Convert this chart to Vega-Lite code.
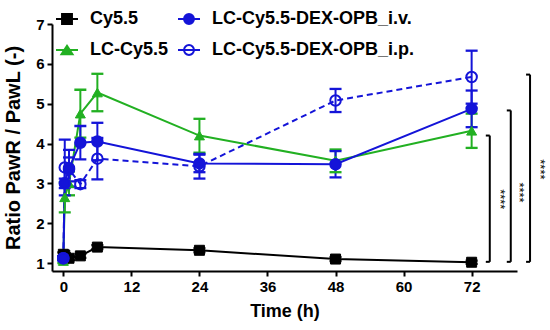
{
  "$schema": "https://vega.github.io/schema/vega-lite/v6.json",
  "autosize": {"type": "none"},
  "width": 465,
  "height": 247,
  "padding": {"left": 52, "top": 24, "right": 33, "bottom": 59},
  "background": "white",
  "config": {
    "view": {"stroke": null},
    "font": "Liberation Sans",
    "axis": {"domainColor": "black", "domainWidth": 2, "tickColor": "black", "tickWidth": 2, "tickSize": 5, "grid": false, "labelFont": "Liberation Sans", "labelFontWeight": "bold", "labelFontSize": 15, "labelColor": "black", "titleFont": "Liberation Sans", "titleFontWeight": "bold", "titleColor": "black"}
  },
  "datasets": {
    "series": [
      {"s": "Cy5.5", "t": 0, "y": 1.22, "lo": 1.17, "hi": 1.27},
      {"s": "Cy5.5", "t": 0.25, "y": 1.2, "lo": 1.15, "hi": 1.25},
      {"s": "Cy5.5", "t": 1, "y": 1.12, "lo": 1.07, "hi": 1.17},
      {"s": "Cy5.5", "t": 3, "y": 1.18, "lo": 1.13, "hi": 1.23},
      {"s": "Cy5.5", "t": 6, "y": 1.4, "lo": 1.35, "hi": 1.45},
      {"s": "Cy5.5", "t": 24, "y": 1.32, "lo": 1.27, "hi": 1.37},
      {"s": "Cy5.5", "t": 48, "y": 1.1, "lo": 1.05, "hi": 1.15},
      {"s": "Cy5.5", "t": 72, "y": 1.02, "lo": 0.98, "hi": 1.06},
      {"s": "LC-Cy5.5", "t": 0, "y": 1.05, "lo": 1.0, "hi": 1.1},
      {"s": "LC-Cy5.5", "t": 0.25, "y": 2.65, "lo": 2.27, "hi": 3.03},
      {"s": "LC-Cy5.5", "t": 1, "y": 3.0, "lo": 2.7, "hi": 3.3},
      {"s": "LC-Cy5.5", "t": 3, "y": 4.75, "lo": 4.15, "hi": 5.35},
      {"s": "LC-Cy5.5", "t": 6, "y": 5.28, "lo": 4.81, "hi": 5.75},
      {"s": "LC-Cy5.5", "t": 24, "y": 4.2, "lo": 3.77, "hi": 4.62},
      {"s": "LC-Cy5.5", "t": 48, "y": 3.57, "lo": 3.28, "hi": 3.85},
      {"s": "LC-Cy5.5", "t": 72, "y": 4.32, "lo": 3.89, "hi": 4.75},
      {"s": "LC-Cy5.5-DEX-OPB_i.v.", "t": 0, "y": 1.12, "lo": 1.07, "hi": 1.17},
      {"s": "LC-Cy5.5-DEX-OPB_i.v.", "t": 0.25, "y": 3.0, "lo": 2.88, "hi": 3.12},
      {"s": "LC-Cy5.5-DEX-OPB_i.v.", "t": 1, "y": 3.38, "lo": 2.92, "hi": 3.84},
      {"s": "LC-Cy5.5-DEX-OPB_i.v.", "t": 3, "y": 4.02, "lo": 3.6, "hi": 4.44},
      {"s": "LC-Cy5.5-DEX-OPB_i.v.", "t": 6, "y": 4.05, "lo": 3.58, "hi": 4.52},
      {"s": "LC-Cy5.5-DEX-OPB_i.v.", "t": 24, "y": 3.5, "lo": 3.28, "hi": 3.72},
      {"s": "LC-Cy5.5-DEX-OPB_i.v.", "t": 48, "y": 3.48, "lo": 3.15, "hi": 3.81},
      {"s": "LC-Cy5.5-DEX-OPB_i.v.", "t": 72, "y": 4.87, "lo": 4.41, "hi": 5.33},
      {"s": "LC-Cy5.5-DEX-OPB_i.p.", "t": 0, "y": 1.12, "lo": 1.07, "hi": 1.17},
      {"s": "LC-Cy5.5-DEX-OPB_i.p.", "t": 0.25, "y": 3.4, "lo": 2.7, "hi": 4.1},
      {"s": "LC-Cy5.5-DEX-OPB_i.p.", "t": 1, "y": 3.35, "lo": 3.05, "hi": 3.65},
      {"s": "LC-Cy5.5-DEX-OPB_i.p.", "t": 3, "y": 2.98, "lo": 2.88, "hi": 3.08},
      {"s": "LC-Cy5.5-DEX-OPB_i.p.", "t": 6, "y": 3.62, "lo": 3.1, "hi": 4.14},
      {"s": "LC-Cy5.5-DEX-OPB_i.p.", "t": 24, "y": 3.43, "lo": 3.12, "hi": 3.74},
      {"s": "LC-Cy5.5-DEX-OPB_i.p.", "t": 48, "y": 5.08, "lo": 4.79, "hi": 5.37},
      {"s": "LC-Cy5.5-DEX-OPB_i.p.", "t": 72, "y": 5.67, "lo": 5.0, "hi": 6.33}
    ],
    "brackets": [
      {"x": 75.2, "xin": 74.5, "top": 4.2, "bottom": 1.03, "xs": 77.0, "ys": 2.6, "label": "****"},
      {"x": 78.9, "xin": 78.2, "top": 4.83, "bottom": 1.03, "xs": 80.3, "ys": 2.77, "label": "****"},
      {"x": 82.3, "xin": 81.6, "top": 5.73, "bottom": 1.03, "xs": 84.0, "ys": 3.35, "label": "****"}
    ]
  },
  "layer": [
    {
      "data": {"name": "series"},
      "transform": [{"filter": "datum.s != 'LC-Cy5.5-DEX-OPB_i.p.'"}],
      "mark": {"type": "line", "strokeWidth": 2},
      "encoding": {
        "x": {"field": "t", "type": "quantitative", "scale": {"domain": [-2, 80], "nice": false, "zero": false}, "axis": {"values": [0, 12, 24, 36, 48, 60, 72], "title": "Time (h)", "titleFontSize": 18, "labelPadding": 3, "titlePadding": 8}},
        "y": {"field": "y", "type": "quantitative", "scale": {"domain": [0.8, 7], "nice": false, "zero": false}, "axis": {"values": [1, 2, 3, 4, 5, 6, 7], "title": "Ratio PawR / PawL (-)", "titleFontSize": 20, "labelPadding": 3, "titlePadding": 12}},
        "stroke": {"field": "s", "type": "nominal", "sort": null, "scale": {"domain": ["Cy5.5", "LC-Cy5.5-DEX-OPB_i.v.", "LC-Cy5.5", "LC-Cy5.5-DEX-OPB_i.p."], "range": ["#000000", "#1414d8", "#22b022", "#1414d8"]},
          "legend": {"title": null, "orient": "none", "legendX": 3, "legendY": -17, "direction": "horizontal", "columns": 2, "columnPadding": 5, "rowPadding": 10, "padding": 0, "labelFontSize": 18, "labelFontWeight": "bold", "labelColor": "black", "labelFont": "Liberation Sans", "labelOffset": 11, "labelLimit": 0, "symbolSize": 484, "symbolStrokeWidth": 2, "symbolOpacity": 1,
            "encoding": {"symbols": {"strokeWidth": {"value": 2}, "opacity": {"value": 1}}}
          }}
      }
    },
    {
      "data": {"name": "series"},
      "transform": [{"filter": "datum.s == 'LC-Cy5.5-DEX-OPB_i.p.'"}],
      "mark": {"type": "line", "strokeWidth": 2, "strokeDash": [6, 4]},
      "encoding": {
        "x": {"field": "t", "type": "quantitative"},
        "y": {"field": "y", "type": "quantitative"},
        "stroke": {"field": "s", "type": "nominal", "sort": null, "scale": {"domain": ["Cy5.5", "LC-Cy5.5-DEX-OPB_i.v.", "LC-Cy5.5", "LC-Cy5.5-DEX-OPB_i.p."]}}
      }
    },
    {
      "data": {"name": "series"},
      "mark": {"type": "rule", "strokeWidth": 2},
      "encoding": {
        "x": {"field": "t", "type": "quantitative"},
        "y": {"field": "lo", "type": "quantitative"},
        "y2": {"field": "hi"},
        "stroke": {"field": "s", "type": "nominal", "sort": null, "scale": {"domain": ["Cy5.5", "LC-Cy5.5-DEX-OPB_i.v.", "LC-Cy5.5", "LC-Cy5.5-DEX-OPB_i.p."]}}
      }
    },
    {
      "data": {"name": "series"},
      "mark": {"type": "tick", "orient": "horizontal", "size": 10, "thickness": 0.3, "strokeWidth": 2, "fillOpacity": 0, "opacity": 1},
      "encoding": {
        "x": {"field": "t", "type": "quantitative"},
        "y": {"field": "lo", "type": "quantitative"},
        "stroke": {"field": "s", "type": "nominal", "sort": null, "scale": {"domain": ["Cy5.5", "LC-Cy5.5-DEX-OPB_i.v.", "LC-Cy5.5", "LC-Cy5.5-DEX-OPB_i.p."]}}
      }
    },
    {
      "data": {"name": "series"},
      "mark": {"type": "tick", "orient": "horizontal", "size": 10, "thickness": 0.3, "strokeWidth": 2, "fillOpacity": 0, "opacity": 1},
      "encoding": {
        "x": {"field": "t", "type": "quantitative"},
        "y": {"field": "hi", "type": "quantitative"},
        "stroke": {"field": "s", "type": "nominal", "sort": null, "scale": {"domain": ["Cy5.5", "LC-Cy5.5-DEX-OPB_i.v.", "LC-Cy5.5", "LC-Cy5.5-DEX-OPB_i.p."]}}
      }
    },
    {
      "data": {"name": "series"},
      "transform": [{"filter": "datum.s == 'Cy5.5'"}],
      "mark": {"type": "point", "shape": "square", "filled": false, "strokeWidth": 1, "opacity": 1, "size": 100},
      "encoding": {
        "x": {"field": "t", "type": "quantitative"},
        "y": {"field": "y", "type": "quantitative"},
        "stroke": {"field": "s", "type": "nominal", "sort": null, "scale": {"domain": ["Cy5.5", "LC-Cy5.5-DEX-OPB_i.v.", "LC-Cy5.5", "LC-Cy5.5-DEX-OPB_i.p."]}},
        "fill": {"field": "s", "type": "nominal", "sort": null, "scale": {"domain": ["Cy5.5", "LC-Cy5.5-DEX-OPB_i.v.", "LC-Cy5.5", "LC-Cy5.5-DEX-OPB_i.p."], "range": ["#000000", "#1414d8", "#22b022", "transparent"]}}
      }
    },
    {
      "data": {"name": "series"},
      "transform": [{"filter": "datum.s == 'LC-Cy5.5'"}],
      "mark": {"type": "point", "shape": "triangle-up", "filled": false, "strokeWidth": 1, "opacity": 1, "size": 100},
      "encoding": {
        "x": {"field": "t", "type": "quantitative"},
        "y": {"field": "y", "type": "quantitative"},
        "stroke": {"field": "s", "type": "nominal", "sort": null, "scale": {"domain": ["Cy5.5", "LC-Cy5.5-DEX-OPB_i.v.", "LC-Cy5.5", "LC-Cy5.5-DEX-OPB_i.p."]}},
        "fill": {"field": "s", "type": "nominal", "sort": null, "scale": {"domain": ["Cy5.5", "LC-Cy5.5-DEX-OPB_i.v.", "LC-Cy5.5", "LC-Cy5.5-DEX-OPB_i.p."]}}
      }
    },
    {
      "data": {"name": "series"},
      "transform": [{"filter": "datum.s == 'LC-Cy5.5-DEX-OPB_i.v.' || datum.s == 'LC-Cy5.5-DEX-OPB_i.p.'"}],
      "mark": {"type": "point", "shape": "circle", "filled": false, "strokeWidth": 2, "opacity": 1, "size": 110},
      "encoding": {
        "x": {"field": "t", "type": "quantitative"},
        "y": {"field": "y", "type": "quantitative"},
        "stroke": {"field": "s", "type": "nominal", "sort": null, "scale": {"domain": ["Cy5.5", "LC-Cy5.5-DEX-OPB_i.v.", "LC-Cy5.5", "LC-Cy5.5-DEX-OPB_i.p."]}},
        "fill": {"field": "s", "type": "nominal", "sort": null, "scale": {"domain": ["Cy5.5", "LC-Cy5.5-DEX-OPB_i.v.", "LC-Cy5.5", "LC-Cy5.5-DEX-OPB_i.p."]}}
      }
    },
    {
      "data": {"name": "series"},
      "mark": {"type": "point", "filled": false, "opacity": 0, "size": 1},
      "encoding": {
        "x": {"field": "t", "type": "quantitative"},
        "y": {"field": "y", "type": "quantitative"},
        "shape": {"field": "s", "type": "nominal", "sort": null, "scale": {"domain": ["Cy5.5", "LC-Cy5.5-DEX-OPB_i.v.", "LC-Cy5.5", "LC-Cy5.5-DEX-OPB_i.p."], "range": ["M-1,0H1M-0.45,-0.45H0.45V0.45H-0.45Z", "M-1,0H1M0.45,0A0.45,0.45,0,1,1,-0.45,0A0.45,0.45,0,1,1,0.45,0Z", "M-1,0H1M0,-0.38L0.5,0.38H-0.5Z", "M-1,0H1M0.45,0A0.45,0.45,0,1,1,-0.45,0A0.45,0.45,0,1,1,0.45,0Z"]}}
      }
    },
    {
      "data": {"name": "brackets"},
      "mark": {"type": "rule", "strokeWidth": 2, "color": "black"},
      "encoding": {"x": {"field": "x", "type": "quantitative"}, "y": {"field": "bottom", "type": "quantitative"}, "y2": {"field": "top"}}
    },
    {
      "data": {"name": "brackets"},
      "mark": {"type": "rule", "strokeWidth": 2, "color": "black"},
      "encoding": {"x": {"field": "xin", "type": "quantitative"}, "x2": {"field": "x"}, "y": {"field": "top", "type": "quantitative"}}
    },
    {
      "data": {"name": "brackets"},
      "mark": {"type": "rule", "strokeWidth": 2, "color": "black"},
      "encoding": {"x": {"field": "xin", "type": "quantitative"}, "x2": {"field": "x"}, "y": {"field": "bottom", "type": "quantitative"}}
    },
    {
      "data": {"name": "brackets"},
      "mark": {"type": "text", "angle": 90, "fontSize": 13, "fill": "black", "align": "center", "baseline": "middle", "font": "Liberation Sans"},
      "encoding": {"x": {"field": "xs", "type": "quantitative"}, "y": {"field": "ys", "type": "quantitative"}, "text": {"field": "label"}}
    }
  ]
}
